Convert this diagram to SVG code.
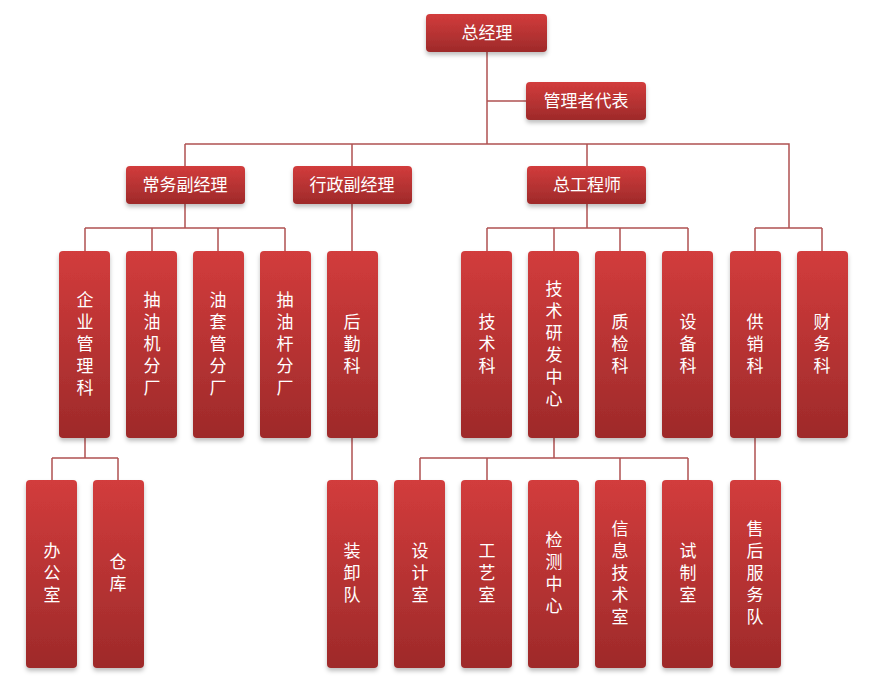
<svg xmlns="http://www.w3.org/2000/svg" width="876" height="692" viewBox="0 0 876 692">
<defs>
<linearGradient id="g" x1="0" y1="0" x2="0" y2="1"><stop offset="0" stop-color="#d23c3c"/><stop offset="1" stop-color="#9e2a2a"/></linearGradient>
<filter id="s" x="-20%" y="-20%" width="140%" height="150%"><feDropShadow dx="0" dy="3" stdDeviation="2" flood-color="#000" flood-opacity="0.25"/></filter>
<style>
rect{fill:url(#g);filter:url(#s)}
text{fill:#fff;font-family:"Noto Sans CJK SC",sans-serif;font-size:17px;text-anchor:middle}
.c path{fill:none;stroke:#b05252;stroke-width:1.5}
</style>
</defs>
<rect width="876" height="692" style="fill:#fff;filter:none"/>
<g class="c">
<path d="M487 52V144M487 101H526M185 144H789V228M185 144V166M352 144V166M587 144V166"/>
<path d="M185 204V228M85 228H285M85 228V251M152 228V251M218 228V251M285 228V251"/>
<path d="M352 204V251M587 204V228M487 228H688M487 228V251M554 228V251M620 228V251M688 228V251M755 228H822M755 228V251M822 228V251"/>
<path d="M85 438V458M52 458H118M52 458V480M118 458V480M352 438V480M554 438V458M420 458H688M420 458V480M487 458V480M620 458V480M688 458V480M755 438V480"/>
</g>
<g id="n0"><rect x="426" y="14" width="121" height="38" rx="4"/><text x="487" y="39">总经理</text></g>
<g id="n1"><rect x="526" y="82" width="120" height="38" rx="4"/><text x="586" y="107">管理者代表</text></g>
<g id="n2"><rect x="126" y="166" width="119" height="38" rx="4"/><text x="185" y="191">常务副经理</text></g>
<g id="n3"><rect x="293" y="166" width="119" height="38" rx="4"/><text x="352" y="191">行政副经理</text></g>
<g id="n4"><rect x="527" y="166" width="119" height="38" rx="4"/><text x="587" y="191">总工程师</text></g>
<g id="n5"><rect x="59" y="251" width="51" height="187" rx="4"/><text x="85"><tspan x="85" y="306">企</tspan><tspan x="85" y="328">业</tspan><tspan x="85" y="350">管</tspan><tspan x="85" y="372">理</tspan><tspan x="85" y="394">科</tspan></text></g>
<g id="n6"><rect x="126" y="251" width="51" height="187" rx="4"/><text><tspan x="152" y="306">抽</tspan><tspan x="152" y="328">油</tspan><tspan x="152" y="350">机</tspan><tspan x="152" y="372">分</tspan><tspan x="152" y="394">厂</tspan></text></g>
<g id="n7"><rect x="193" y="251" width="51" height="187" rx="4"/><text><tspan x="218" y="306">油</tspan><tspan x="218" y="328">套</tspan><tspan x="218" y="350">管</tspan><tspan x="218" y="372">分</tspan><tspan x="218" y="394">厂</tspan></text></g>
<g id="n8"><rect x="260" y="251" width="51" height="187" rx="4"/><text><tspan x="285" y="306">抽</tspan><tspan x="285" y="328">油</tspan><tspan x="285" y="350">杆</tspan><tspan x="285" y="372">分</tspan><tspan x="285" y="394">厂</tspan></text></g>
<g id="n9"><rect x="327" y="251" width="51" height="187" rx="4"/><text><tspan x="352" y="328">后</tspan><tspan x="352" y="350">勤</tspan><tspan x="352" y="372">科</tspan></text></g>
<g id="n10"><rect x="461" y="251" width="51" height="187" rx="4"/><text><tspan x="487" y="328">技</tspan><tspan x="487" y="350">术</tspan><tspan x="487" y="372">科</tspan></text></g>
<g id="n11"><rect x="528" y="251" width="51" height="187" rx="4"/><text><tspan x="554" y="295">技</tspan><tspan x="554" y="317">术</tspan><tspan x="554" y="339">研</tspan><tspan x="554" y="361">发</tspan><tspan x="554" y="383">中</tspan><tspan x="554" y="405">心</tspan></text></g>
<g id="n12"><rect x="595" y="251" width="51" height="187" rx="4"/><text><tspan x="620" y="328">质</tspan><tspan x="620" y="350">检</tspan><tspan x="620" y="372">科</tspan></text></g>
<g id="n13"><rect x="662" y="251" width="51" height="187" rx="4"/><text><tspan x="688" y="328">设</tspan><tspan x="688" y="350">备</tspan><tspan x="688" y="372">科</tspan></text></g>
<g id="n14"><rect x="730" y="251" width="51" height="187" rx="4"/><text><tspan x="755" y="328">供</tspan><tspan x="755" y="350">销</tspan><tspan x="755" y="372">科</tspan></text></g>
<g id="n15"><rect x="797" y="251" width="51" height="187" rx="4"/><text><tspan x="822" y="328">财</tspan><tspan x="822" y="350">务</tspan><tspan x="822" y="372">科</tspan></text></g>
<g id="n16"><rect x="26" y="480" width="51" height="188" rx="4"/><text><tspan x="52" y="557">办</tspan><tspan x="52" y="579">公</tspan><tspan x="52" y="601">室</tspan></text></g>
<g id="n17"><rect x="93" y="480" width="51" height="188" rx="4"/><text><tspan x="118" y="568">仓</tspan><tspan x="118" y="590">库</tspan></text></g>
<g id="n18"><rect x="327" y="480" width="51" height="188" rx="4"/><text><tspan x="352" y="557">装</tspan><tspan x="352" y="579">卸</tspan><tspan x="352" y="601">队</tspan></text></g>
<g id="n19"><rect x="394" y="480" width="51" height="188" rx="4"/><text><tspan x="420" y="557">设</tspan><tspan x="420" y="579">计</tspan><tspan x="420" y="601">室</tspan></text></g>
<g id="n20"><rect x="461" y="480" width="51" height="188" rx="4"/><text><tspan x="487" y="557">工</tspan><tspan x="487" y="579">艺</tspan><tspan x="487" y="601">室</tspan></text></g>
<g id="n21"><rect x="528" y="480" width="51" height="188" rx="4"/><text><tspan x="554" y="546">检</tspan><tspan x="554" y="568">测</tspan><tspan x="554" y="590">中</tspan><tspan x="554" y="612">心</tspan></text></g>
<g id="n22"><rect x="595" y="480" width="51" height="188" rx="4"/><text><tspan x="620" y="535">信</tspan><tspan x="620" y="557">息</tspan><tspan x="620" y="579">技</tspan><tspan x="620" y="601">术</tspan><tspan x="620" y="623">室</tspan></text></g>
<g id="n23"><rect x="662" y="480" width="51" height="188" rx="4"/><text><tspan x="688" y="557">试</tspan><tspan x="688" y="579">制</tspan><tspan x="688" y="601">室</tspan></text></g>
<g id="n24"><rect x="730" y="480" width="51" height="188" rx="4"/><text><tspan x="755" y="535">售</tspan><tspan x="755" y="557">后</tspan><tspan x="755" y="579">服</tspan><tspan x="755" y="601">务</tspan><tspan x="755" y="623">队</tspan></text></g>
</svg>
